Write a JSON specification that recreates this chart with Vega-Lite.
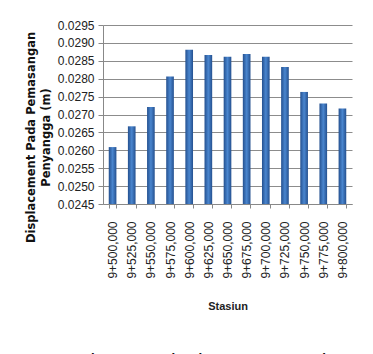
{
  "$schema": "https://vega.github.io/schema/vega-lite/v6.json",
  "autosize": {"type": "none"},
  "width": 249,
  "height": 179,
  "padding": {"left": 103, "top": 25, "right": 21, "bottom": 150},
  "background": "white",
  "config": {"view": {"stroke": null}},
  "title": {
    "text": "Gambar 31 Displacement Pada",
    "orient": "bottom",
    "anchor": "middle",
    "font": "Liberation Sans",
    "fontSize": 21,
    "fontWeight": "normal",
    "color": "#111",
    "baseline": "top",
    "offset": 40,
    "dx": -36
  },
  "data": {
    "values": [
      {"stasiun": "9+500,000", "displacement": 0.02609},
      {"stasiun": "9+525,000", "displacement": 0.02667},
      {"stasiun": "9+550,000", "displacement": 0.02721},
      {"stasiun": "9+575,000", "displacement": 0.02806},
      {"stasiun": "9+600,000", "displacement": 0.02881},
      {"stasiun": "9+625,000", "displacement": 0.02866},
      {"stasiun": "9+650,000", "displacement": 0.02861},
      {"stasiun": "9+675,000", "displacement": 0.02869},
      {"stasiun": "9+700,000", "displacement": 0.02861},
      {"stasiun": "9+725,000", "displacement": 0.02833},
      {"stasiun": "9+750,000", "displacement": 0.02763},
      {"stasiun": "9+775,000", "displacement": 0.02731},
      {"stasiun": "9+800,000", "displacement": 0.02717}
    ]
  },
  "mark": {
    "type": "bar",
    "fill": {
      "gradient": "linear",
      "x1": 0, "x2": 1, "y1": 0, "y2": 0,
      "stops": [
        {"offset": 0, "color": "#24508f"},
        {"offset": 0.5, "color": "#4a86cf"},
        {"offset": 1, "color": "#24508f"}
      ]
    }
  },
  "encoding": {
    "x": {
      "field": "stasiun",
      "type": "nominal",
      "sort": null,
      "scale": {"paddingInner": 0.6, "paddingOuter": 0.3},
      "axis": {
        "title": "Stasiun",
        "titleFont": "Liberation Sans",
        "titleFontSize": 11,
        "titleFontWeight": "bold",
        "titleColor": "#222",
        "titlePadding": 22,
        "labelAngle": -90,
        "labelFont": "Liberation Sans",
        "labelFontSize": 12,
        "labelColor": "#222",
        "labelPadding": 13,
        "tickBand": "extent",
        "tickSize": 4,
        "tickColor": "#888",
        "domainColor": "#888",
        "grid": false
      }
    },
    "y": {
      "field": "displacement",
      "type": "quantitative",
      "scale": {"domain": [0.0245, 0.0295], "zero": false, "nice": false},
      "axis": {
        "values": [0.0245, 0.025, 0.0255, 0.026, 0.0265, 0.027, 0.0275, 0.028, 0.0285, 0.029, 0.0295],
        "format": ".4f",
        "title": ["Displacement Pada Pemasangan", "Penyangga (m)"],
        "titleFont": "DejaVu Sans",
        "titleFontSize": 11.5,
        "titleFontWeight": "bold",
        "titleColor": "#111",
        "titleLineHeight": 15,
        "titleBaseline": "middle",
        "titleX": -72,
        "titleY": 112,
        "labelFont": "Liberation Sans",
        "labelFontSize": 12,
        "labelColor": "#222",
        "labelPadding": 4,
        "tickSize": 5,
        "tickColor": "#888",
        "domainColor": "#888",
        "grid": true,
        "gridColor": "#8c8c8c",
        "gridWidth": 1
      }
    },
    "y2": {"datum": 0.0245}
  }
}
